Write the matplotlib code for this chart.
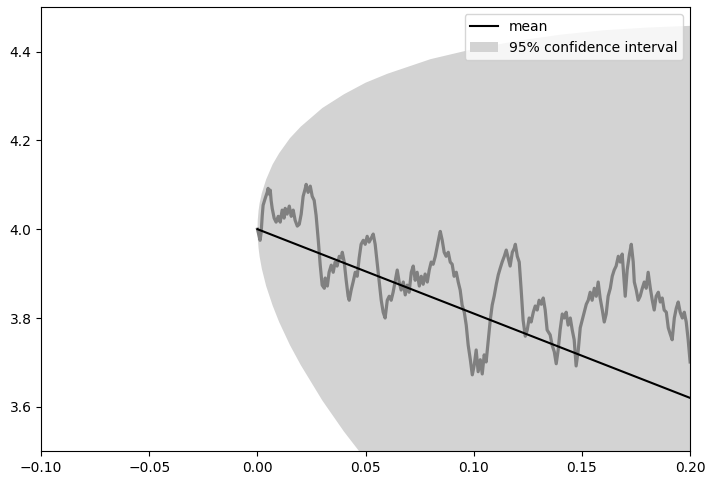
import matplotlib as mplt
mplt.use("Agg")
import matplotlib.pyplot as plt

# mean drift line (start / end)
mean_t = [0.0, 0.2]
mean_x = [4.0, 3.62]

# 95% confidence band edges
band_t = [0.0, 0.0001, 0.0005, 0.001, 0.002, 0.004, 0.007, 0.01, 0.015, 0.02,
          0.03, 0.04, 0.05, 0.06, 0.08, 0.10, 0.12, 0.14, 0.16, 0.18, 0.20]
band_hi = [4.0, 4.019, 4.042, 4.059, 4.081, 4.112, 4.146, 4.171, 4.205, 4.231,
           4.273, 4.304, 4.330, 4.350, 4.383, 4.406, 4.424, 4.438, 4.448, 4.454, 4.458]
band_lo = [4.0, 3.981, 3.957, 3.938, 3.911, 3.872, 3.828, 3.791, 3.739, 3.694,
           3.614, 3.544, 3.481, 3.421, 3.311, 3.210, 3.114, 3.024, 2.936, 2.852, 2.770]

# sample path (traced)
path_t = [
    0.0, 0.0008, 0.0012, 0.0017, 0.0022, 0.0026, 0.0036, 0.0045, 0.0049, 0.0054,
    0.0059, 0.0063, 0.0068, 0.0077, 0.0086, 0.0096, 0.0105, 0.0114, 0.0123, 0.0128,
    0.0137, 0.0147, 0.0156, 0.0165, 0.0174, 0.0184, 0.0193, 0.0202, 0.0211, 0.0221,
    0.0225, 0.0234, 0.0244, 0.0253, 0.0262, 0.0271, 0.0281, 0.0290, 0.0299, 0.0309,
    0.0313, 0.0323,
    0.0331, 0.0341, 0.0350, 0.0359, 0.0368, 0.0378, 0.0387, 0.0392, 0.0401, 0.0410,
    0.0419, 0.0424, 0.0433, 0.0442, 0.0452, 0.0461, 0.0470, 0.0479, 0.0489, 0.0498,
    0.0507, 0.0516, 0.0526, 0.0535, 0.0544, 0.0553, 0.0563, 0.0572, 0.0581, 0.0590,
    0.0600, 0.0609, 0.0618, 0.0627, 0.0637, 0.0646, 0.0655, 0.0664,
    0.0674, 0.0683, 0.0692, 0.0701, 0.0711, 0.0720, 0.0729, 0.0738, 0.0748, 0.0757,
    0.0766, 0.0775, 0.0785, 0.0794, 0.0803, 0.0812, 0.0822, 0.0831, 0.0840, 0.0845,
    0.0854, 0.0863, 0.0872, 0.0882, 0.0891, 0.0900, 0.0909, 0.0919, 0.0928, 0.0937,
    0.0946, 0.0956, 0.0965, 0.0974, 0.0984, 0.0993,
    0.1002, 0.1011, 0.1020, 0.1030, 0.1039, 0.1048, 0.1057, 0.1067, 0.1076, 0.1085,
    0.1094, 0.1104, 0.1113, 0.1122, 0.1131, 0.1141, 0.1150, 0.1159, 0.1168, 0.1178,
    0.1187, 0.1192, 0.1201, 0.1210, 0.1219, 0.1228, 0.1238, 0.1247, 0.1256, 0.1265,
    0.1275, 0.1284, 0.1293, 0.1302, 0.1312, 0.1321, 0.1330, 0.1339,
    0.1353, 0.1362, 0.1372, 0.1381, 0.1390, 0.1399, 0.1409, 0.1418, 0.1427, 0.1436,
    0.1446, 0.1455, 0.1464, 0.1473, 0.1483, 0.1492, 0.1501, 0.1510, 0.1520, 0.1529,
    0.1538, 0.1547, 0.1557, 0.1566, 0.1575, 0.1584, 0.1594, 0.1603, 0.1612, 0.1621,
    0.1631, 0.1640, 0.1649, 0.1658, 0.1668,
    0.1677, 0.1686, 0.1695, 0.1700, 0.1709, 0.1719, 0.1728, 0.1737, 0.1742, 0.1751,
    0.1760, 0.1769, 0.1779, 0.1788, 0.1797, 0.1806, 0.1816, 0.1825, 0.1834, 0.1843,
    0.1853, 0.1862, 0.1871, 0.1880, 0.1890, 0.1899, 0.1908, 0.1917, 0.1927, 0.1936,
    0.1945, 0.1954, 0.1964, 0.1973, 0.1982, 0.1991, 0.2000,
]
path_x = [
    4.000, 3.984, 3.975, 3.993, 4.031, 4.054, 4.070, 4.083, 4.092, 4.079,
    4.088, 4.065, 4.047, 4.025, 4.016, 4.029, 4.016, 4.043, 4.025, 4.047,
    4.034, 4.052, 4.029, 4.043, 4.020, 4.007, 4.011, 4.034, 4.074, 4.092,
    4.101, 4.083, 4.097, 4.074, 4.065, 4.031, 3.975, 3.919, 3.874, 3.867,
    3.890, 3.872,
    3.903, 3.919, 3.903, 3.926, 3.917, 3.939, 3.935, 3.948, 3.926, 3.885,
    3.849, 3.840, 3.863, 3.881, 3.903, 3.894, 3.935, 3.966, 3.975, 3.966,
    3.984, 3.971, 3.980, 3.989, 3.966, 3.926, 3.881, 3.840, 3.813, 3.800,
    3.840, 3.849, 3.840, 3.858, 3.885, 3.908, 3.881, 3.863,
    3.881, 3.852, 3.874, 3.858, 3.903, 3.917, 3.885, 3.903, 3.872, 3.894,
    3.876, 3.899, 3.881, 3.908, 3.926, 3.921, 3.939, 3.962, 3.984, 3.995,
    3.975, 3.948, 3.939, 3.948, 3.926, 3.921, 3.894, 3.903, 3.881, 3.863,
    3.829, 3.813, 3.784, 3.739, 3.706, 3.672,
    3.694, 3.728, 3.679, 3.706, 3.674, 3.717, 3.701, 3.751, 3.795, 3.829,
    3.849, 3.876, 3.897, 3.912, 3.926, 3.939, 3.953, 3.935, 3.917, 3.948,
    3.957, 3.966, 3.939, 3.926, 3.863, 3.795, 3.759, 3.773, 3.800, 3.791,
    3.813, 3.827, 3.818, 3.840, 3.831, 3.845, 3.818, 3.773,
    3.762, 3.739, 3.724, 3.697, 3.728, 3.773, 3.809, 3.800, 3.813, 3.784,
    3.800, 3.773, 3.751, 3.692, 3.728, 3.778, 3.795, 3.813, 3.831, 3.840,
    3.858, 3.840, 3.867, 3.849, 3.881, 3.845, 3.818, 3.791, 3.809, 3.849,
    3.867, 3.894, 3.908, 3.917, 3.939,
    3.926, 3.944, 3.885, 3.849, 3.908, 3.942, 3.966, 3.926, 3.881, 3.863,
    3.840, 3.849, 3.867, 3.881, 3.867, 3.903, 3.867, 3.840, 3.818, 3.849,
    3.858, 3.836, 3.845, 3.818, 3.813, 3.778, 3.764, 3.751, 3.800, 3.822,
    3.836, 3.813, 3.800, 3.813, 3.791, 3.751, 3.701,
]

fig, ax = plt.subplots(figsize=(7.1, 4.8), dpi=100)

ax.fill_between(band_t, band_lo, band_hi, color="lightgray", lw=0,
                label="95% confidence interval")
ax.plot(path_t, path_x, c="gray", lw=2.3)
ax.plot(mean_t, mean_x, c="k", lw=1.5, label="mean")

ax.set_xlim(-0.1, 0.2)
ax.set_ylim(3.5, 4.5)
ax.set_yticks([3.6, 3.8, 4.0, 4.2, 4.4])

handles, labels = ax.get_legend_handles_labels()
ax.legend(handles[::-1], labels[::-1], loc="upper right")

plt.subplots_adjust(left=0.058, right=0.972, bottom=0.06, top=0.985)
plt.savefig("out.png")
